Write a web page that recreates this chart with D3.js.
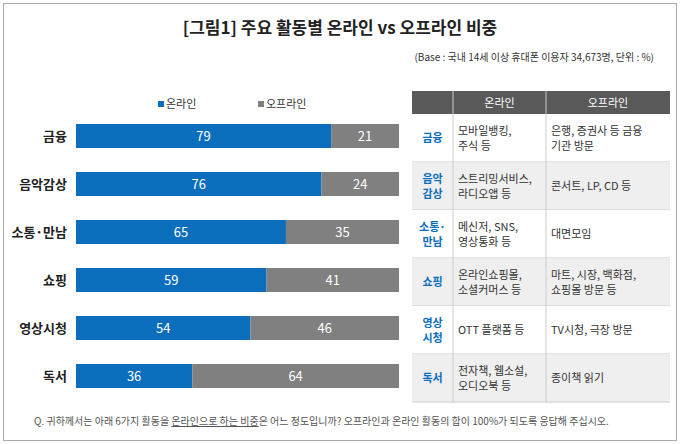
<!DOCTYPE html>
<html><head><meta charset="utf-8">
<script src="https://cdn.jsdelivr.net/npm/d3@7"></script>
<style>body{margin:0;background:#fff}svg{font-family:"Noto Sans CJK KR","Noto Sans",sans-serif}</style>
</head><body><svg width="680" height="444"></svg>
<script>
const categories = ["금융","음악감상","소통·만남","쇼핑","영상시청","독서"];
const online = [79,76,65,59,54,36];
const offline = [21,24,35,41,46,64];
const rowLabels = [["금융"],["음악","감상"],["소통·","만남"],["쇼핑"],["영상","시청"],["독서"]];
const onlineDesc = [["모바일뱅킹,","주식 등"],["스트리밍서비스,","라디오앱 등"],["메신저, SNS,","영상통화 등"],["온라인쇼핑몰,","소셜커머스 등"],["OTT 플랫폼 등"],["전자책, 웹소설,","오디오북 등"]];
const offlineDesc = [["은행, 증권사 등 금융","기관 방문"],["콘서트, LP, CD 등"],["대면모임"],["마트, 시장, 백화점,","쇼핑몰 방문 등"],["TV시청, 극장 방문"],["종이책 읽기"]];
const blue = "#0a6ebd", grey = "#808080";

const svg = d3.select("svg");
svg.append("rect").attr("x",3.5).attr("y",3.5).attr("width",673).attr("height",437).attr("fill","none").attr("stroke","#aaa");
svg.append("text").attr("x",340).attr("y",34).attr("text-anchor","middle").attr("font-size",17).attr("font-weight","bold").attr("fill","#222").text("[그림1] 주요 활동별 온라인 vs 오프라인 비중");
svg.append("text").attr("x",654).attr("y",61).attr("text-anchor","end").attr("font-size",10).attr("fill","#333").text("(Base : 국내 14세 이상 휴대폰 이용자 34,673명, 단위 : %)");

// legend
[["온라인",blue,158],["오프라인",grey,258]].forEach(([t,c,x])=>{
  svg.append("rect").attr("x",x).attr("y",101).attr("width",6).attr("height",6).attr("fill",c);
  svg.append("text").attr("x",x+8).attr("y",108).attr("font-size",11).attr("fill","#333").text(t);
});

const x = d3.scaleLinear().domain([0,100]).range([76,399]);
const y = d3.scaleBand().domain(categories).range([112,400]).paddingInner(0.5).paddingOuter(0.25);
const g = svg.append("g");
categories.forEach((c,i)=>{
  const yy = y(c), h = y.bandwidth();
  g.append("rect").attr("x",x(0)).attr("y",yy).attr("width",x(online[i])-x(0)).attr("height",h).attr("fill",blue);
  g.append("rect").attr("x",x(online[i])).attr("y",yy).attr("width",x(100)-x(online[i])).attr("height",h).attr("fill",grey);
  g.append("text").attr("x",(x(0)+x(online[i]))/2).attr("y",yy+h/2+5).attr("text-anchor","middle").attr("font-size",13).attr("fill","#fff").text(online[i]);
  g.append("text").attr("x",(x(online[i])+x(100))/2).attr("y",yy+h/2+5).attr("text-anchor","middle").attr("font-size",13).attr("fill","#fff").text(offline[i]);
  g.append("text").attr("x",67).attr("y",yy+h/2+5).attr("text-anchor","end").attr("font-size",13).attr("font-weight","bold").attr("fill","#222").text(c);
});

// table
const cols = [412,453,546,670];
const hdrY = 91, hdrH = 23, rowH = 48;
const t = svg.append("g");
t.append("rect").attr("x",cols[0]).attr("y",hdrY).attr("width",cols[3]-cols[0]).attr("height",hdrH).attr("fill","#595959");
[["온라인",1],["오프라인",2]].forEach(([s,k])=>t.append("text").attr("x",(cols[k]+cols[k+1])/2).attr("y",hdrY+16).attr("text-anchor","middle").attr("font-size",11).attr("fill","#fff").text(s));
categories.forEach((c,i)=>{
  const ry = hdrY+hdrH+i*rowH;
  t.append("rect").attr("x",cols[0]).attr("y",ry).attr("width",cols[3]-cols[0]).attr("height",rowH).attr("fill",i%2?"#efefef":"#fff");
  t.append("line").attr("x1",cols[0]).attr("x2",cols[3]).attr("y1",ry+rowH).attr("y2",ry+rowH).attr("stroke","#ccc");
  const put = (lines,cx,anchor,color,weight)=>{
    const y0 = ry+rowH/2 - (lines.length-1)*7.5 + 4;
    lines.forEach((l,j)=>t.append("text").attr("x",cx).attr("y",y0+j*15).attr("text-anchor",anchor).attr("font-size",11).attr("font-weight",weight).attr("fill",color).text(l));
  };
  put(rowLabels[i],(cols[0]+cols[1])/2,"middle",blue,"bold");
  put(onlineDesc[i],cols[1]+5,"start","#333","normal");
  put(offlineDesc[i],cols[2]+5,"start","#333","normal");
});
[cols[1],cols[2]].forEach(cx=>t.append("line").attr("x1",cx).attr("x2",cx).attr("y1",hdrY).attr("y2",hdrY+hdrH+6*rowH).attr("stroke","#ccc"));

const foot = svg.append("text").attr("x",34).attr("y",425).attr("font-size",10).attr("fill","#555");
foot.append("tspan").text("Q. 귀하께서는 아래 6가지 활동을 ");
foot.append("tspan").attr("text-decoration","underline").text("온라인으로 하는 비중");
foot.append("tspan").text("은 어느 정도입니까? 오프라인과 온라인 활동의 합이 100%가 되도록 응답해 주십시오.");
</script></body></html>
